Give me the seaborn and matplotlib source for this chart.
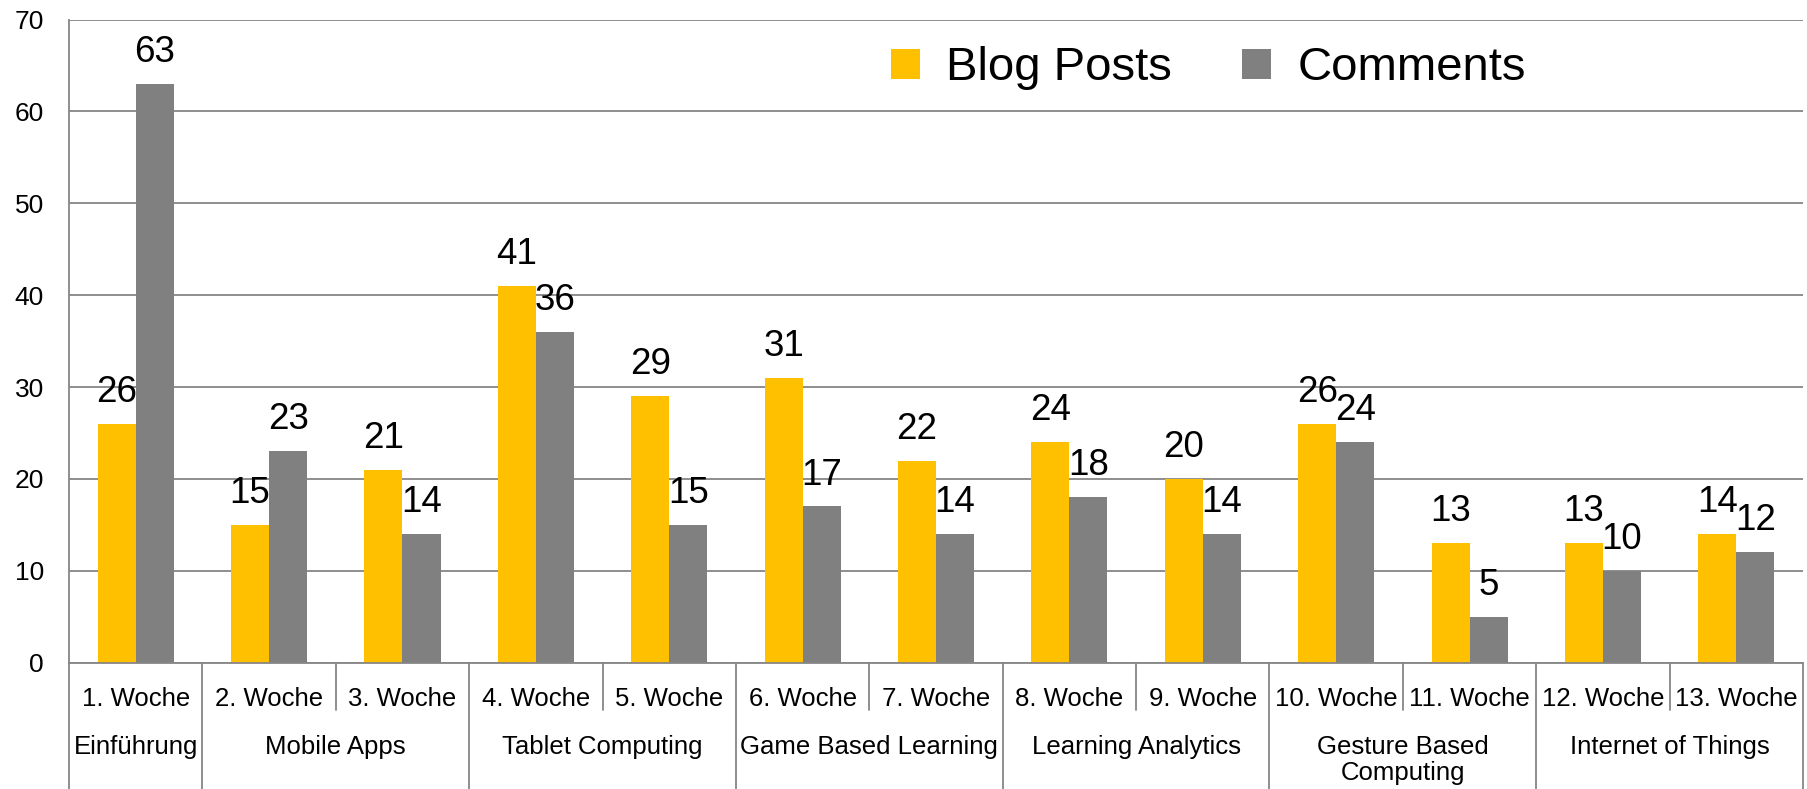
import pandas as pd
import seaborn as sns
import matplotlib.pyplot as plt

# Data
weeks = ["1. Woche", "2. Woche", "3. Woche", "4. Woche", "5. Woche", "6. Woche",
         "7. Woche", "8. Woche", "9. Woche", "10. Woche", "11. Woche", "12. Woche",
         "13. Woche"]
blog_posts = [26, 15, 21, 41, 29, 31, 22, 24, 20, 26, 13, 13, 14]
comments = [63, 23, 14, 36, 15, 17, 14, 18, 14, 24, 5, 10, 12]

# Topic groups and how many weeks each one spans
topics = ["Einführung", "Mobile Apps", "Tablet Computing", "Game Based Learning",
          "Learning Analytics", "Gesture Based\nComputing", "Internet of Things"]
topic_sizes = [1, 2, 2, 2, 2, 2, 2]

series_names = ["Blog Posts", "Comments"]
colors = {"Blog Posts": "#FFC000", "Comments": "#808080"}

df = pd.DataFrame({
    "Woche": weeks * 2,
    "Serie": [series_names[0]] * len(weeks) + [series_names[1]] * len(weeks),
    "Anzahl": blog_posts + comments,
})

sns.set_style("white")
plt.rcParams["font.family"] = ["Liberation Sans", "DejaVu Sans"]
plt.rcParams["text.color"] = "black"
plt.rcParams["ytick.labelcolor"] = "black"

grey = "#868686"
fig = plt.figure(figsize=(18.07, 7.89), dpi=100)
ax = fig.add_axes([0.0382, 0.1602, 0.9596, 0.815])

sns.barplot(data=df, x="Woche", y="Anzahl", hue="Serie", order=weeks,
            hue_order=series_names, palette=colors, saturation=1,
            width=0.57, gap=0, linewidth=0, ax=ax)

for cont in ax.containers:
    ax.bar_label(cont, fmt="%g", padding=10, fontsize=26.5, color="black")

ax.set_xlim(-0.5, len(weeks) - 0.5)
ax.set_ylim(0, 70)
ax.set_yticks(range(0, 71, 10))
ax.yaxis.grid(True, color=grey, linewidth=1.3)
ax.set_axisbelow(True)
ax.tick_params(axis="y", length=6, width=1.3, color=grey, pad=12, labelsize=19)
ax.tick_params(axis="x", length=0, labelbottom=False)
ax.set_xlabel("")
ax.set_ylabel("")
for side in ["top", "right"]:
    ax.spines[side].set_visible(False)
for side in ["left", "bottom"]:
    ax.spines[side].set_color(grey)
    ax.spines[side].set_linewidth(1.3)

# Two-level category axis below the plot
trans = ax.get_xaxis_transform()
for i, w in enumerate(weeks):
    ax.text(i, -0.056, w, transform=trans, ha="center", va="center", fontsize=18.5)

start = 0
group_edges = [0]
for name, size in zip(topics, topic_sizes):
    center = start + (size - 1) / 2
    ax.text(center, -0.112, name, transform=trans, ha="center", va="top",
            fontsize=18.5, linespacing=1.15)
    start += size
    group_edges.append(start)

for b in range(len(weeks) + 1):
    y_end = -0.25 if b in group_edges else -0.0737
    ax.plot([b - 0.5, b - 0.5], [0, y_end], transform=trans, color=grey,
            linewidth=1.3, clip_on=False)

sns.move_legend(ax, loc="center", bbox_to_anchor=(0.657, 0.924), ncol=2,
                frameon=False, title=None, fontsize=34, handlelength=0.61,
                handleheight=0.61, handletextpad=0.55, columnspacing=1.5)

fig.savefig("out.png", dpi=100, facecolor="white")
